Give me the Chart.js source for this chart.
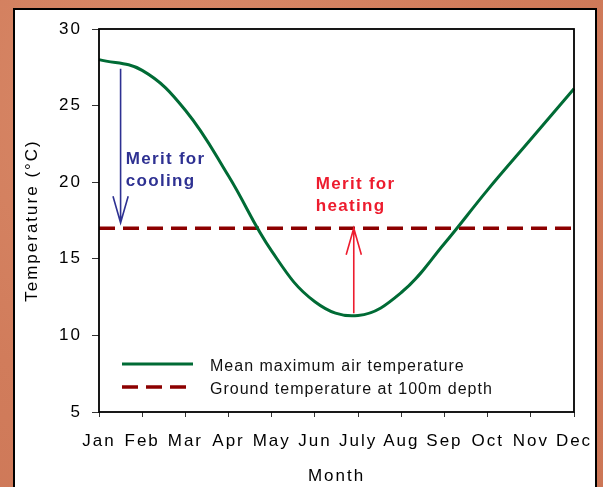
<!DOCTYPE html>
<html>
<head>
<meta charset="utf-8">
<script src="https://cdn.jsdelivr.net/npm/chart.js@4.4.0/dist/chart.umd.min.js"></script>
<style>
  html, body { margin: 0; padding: 0; }
  body { width: 603px; height: 487px; overflow: hidden; position: relative;
         background: radial-gradient(circle at 30% 20%, #d98a69 0%, #d17c5b 55%, #cc7656 100%); }
  #frame { position: absolute; left: 13px; top: 8px; width: 580px; height: 495px;
           background: #fff; border: 2px solid #000; }
  #chart { position: absolute; left: 0; top: 0; }
</style>
</head>
<body>
<div id="frame"></div>
<canvas id="chart" width="603" height="487"></canvas>
<script>
// values
const months = ['Jan', 'Feb', 'Mar', 'Apr', 'May', 'Jun', 'July', 'Aug', 'Sep', 'Oct', 'Nov', 'Dec'];
const airTemp = [28.0, 27.3, 24.7, 20.4, 15.5, 12.2, 11.3, 12.8, 16.0, 19.5, 22.8, 26.1];
const groundTemp = [17, 17, 17, 17, 17, 17, 17, 17, 17, 17, 17, 17];
const yTicks = [5, 10, 15, 20, 25, 30];

const FONT = "'Liberation Sans', Arial, sans-serif";
const green = '#006b35';
const darkRed = '#8c0000';
const blue = '#2e3192';
const red = '#ed1c2e';

// arrows and notes, in month index / degrees
const coolingNote = { month: 0.5, from: 27.4, to: 17.35, textMonth: 0.62, lines: ['Merit for', 'cooling'], at: [21.2, 19.76], color: blue };
const heatingNote = { month: 5.9, from: 11.45, to: 17.0, textMonth: 5.02, lines: ['Merit for', 'heating'], at: [19.54, 18.12], color: red };

const spacing = {
  id: 'spacing',
  beforeUpdate(c) { c.ctx.letterSpacing = '2px'; },
  beforeLayout(c) { c.ctx.letterSpacing = '2px'; },
  beforeDraw(c) { c.ctx.letterSpacing = '2px'; }
};

const extras = {
  id: 'extras',
  afterDatasetsDraw(chart) {
    const ctx = chart.ctx;
    const a = chart.chartArea;
    const x = chart.scales.x, y = chart.scales.y;
    ctx.save();
    // plot box
    ctx.strokeStyle = '#000';
    ctx.lineWidth = 1.8;
    ctx.strokeRect(a.left, a.top, a.right - a.left, a.bottom - a.top);

    // arrows + notes
    [coolingNote, heatingNote].forEach(n => {
      const px = x.getPixelForValue(n.month);
      const y0 = y.getPixelForValue(n.from);
      const y1 = y.getPixelForValue(n.to);
      const dir = y1 > y0 ? 1 : -1;
      ctx.strokeStyle = n.color;
      ctx.lineWidth = 1.6;
      ctx.beginPath();
      ctx.moveTo(px, y0);
      ctx.lineTo(px, y1);
      ctx.moveTo(px - 7.6, y1 - dir * 26.5);
      ctx.lineTo(px, y1);
      ctx.lineTo(px + 7.6, y1 - dir * 26.5);
      ctx.stroke();

      ctx.fillStyle = n.color;
      ctx.font = 'bold 17px ' + FONT;
      ctx.letterSpacing = '1.3px';
      ctx.textAlign = 'left';
      ctx.textBaseline = 'alphabetic';
      const tx = x.getPixelForValue(n.textMonth);
      n.lines.forEach((t, i) => ctx.fillText(t, tx, y.getPixelForValue(n.at[i])));
    });

    // legend inside the plot
    ctx.font = '16px ' + FONT;
    ctx.letterSpacing = '1px';
    ctx.fillStyle = '#111';
    chart.data.datasets.forEach((ds, i) => {
      const ly = a.top + 335 + i * 23;
      ctx.strokeStyle = ds.borderColor;
      ctx.lineWidth = ds.borderWidth;
      ctx.setLineDash(ds.borderDash || []);
      ctx.beginPath();
      ctx.moveTo(a.left + 23, ly);
      ctx.lineTo(a.left + (ds.borderDash ? 87 : 94), ly);
      ctx.stroke();
      ctx.setLineDash([]);
      ctx.fillText(ds.label, a.left + 111, ly + 6.5);
    });
    ctx.restore();
    ctx.letterSpacing = '2px';
  }
};

new Chart(document.getElementById('chart'), {
  type: 'line',
  data: {
    labels: months,
    datasets: [{
      label: 'Mean maximum air temperature',
      data: airTemp,
      borderColor: green,
      borderWidth: 3,
      pointRadius: 0,
      tension: 0.4,
      fill: false
    }, {
      label: 'Ground temperature at 100m depth',
      data: groundTemp,
      borderColor: darkRed,
      borderWidth: 3.5,
      borderDash: [16, 8],
      pointRadius: 0,
      fill: false
    }]
  },
  options: {
    responsive: false,
    animation: false,
    devicePixelRatio: 1,
    layout: { padding: { top: 29, right: 29, left: 0, bottom: 0 } },
    plugins: { legend: { display: false }, tooltip: { enabled: false } },
    scales: {
      x: {
        type: 'category',
        offset: false,
        afterFit(s) { s.height = 75; s.paddingRight = 0; s.paddingLeft = 0; },
        grid: { drawOnChartArea: false, drawTicks: true, tickLength: 5, color: '#333', lineWidth: 1 },
        border: { display: false },
        ticks: { color: '#000', padding: 14, autoSkip: false, maxRotation: 0, font: { family: FONT, size: 17 } },
        title: { display: true, text: 'Month', color: '#000', padding: { top: 0, bottom: 0 }, font: { family: FONT, size: 17 } }
      },
      y: {
        min: yTicks[0],
        max: yTicks[yTicks.length - 1],
        afterFit(s) { s.width = 99; s.paddingTop = 0; s.paddingBottom = 0; },
        afterBuildTicks(s) { s.ticks = yTicks.map(v => ({ value: v })); },
        grid: { drawOnChartArea: false, drawTicks: true, tickLength: 7, color: '#333', lineWidth: 1 },
        border: { display: false },
        ticks: { color: '#000', padding: 10, font: { family: FONT, size: 17 } },
        title: { display: true, text: 'Temperature (°C)', color: '#000', padding: { top: 22, bottom: 0 }, font: { family: FONT, size: 17 } }
      }
    }
  },
  plugins: [spacing, extras]
});
</script>
</body>
</html>
